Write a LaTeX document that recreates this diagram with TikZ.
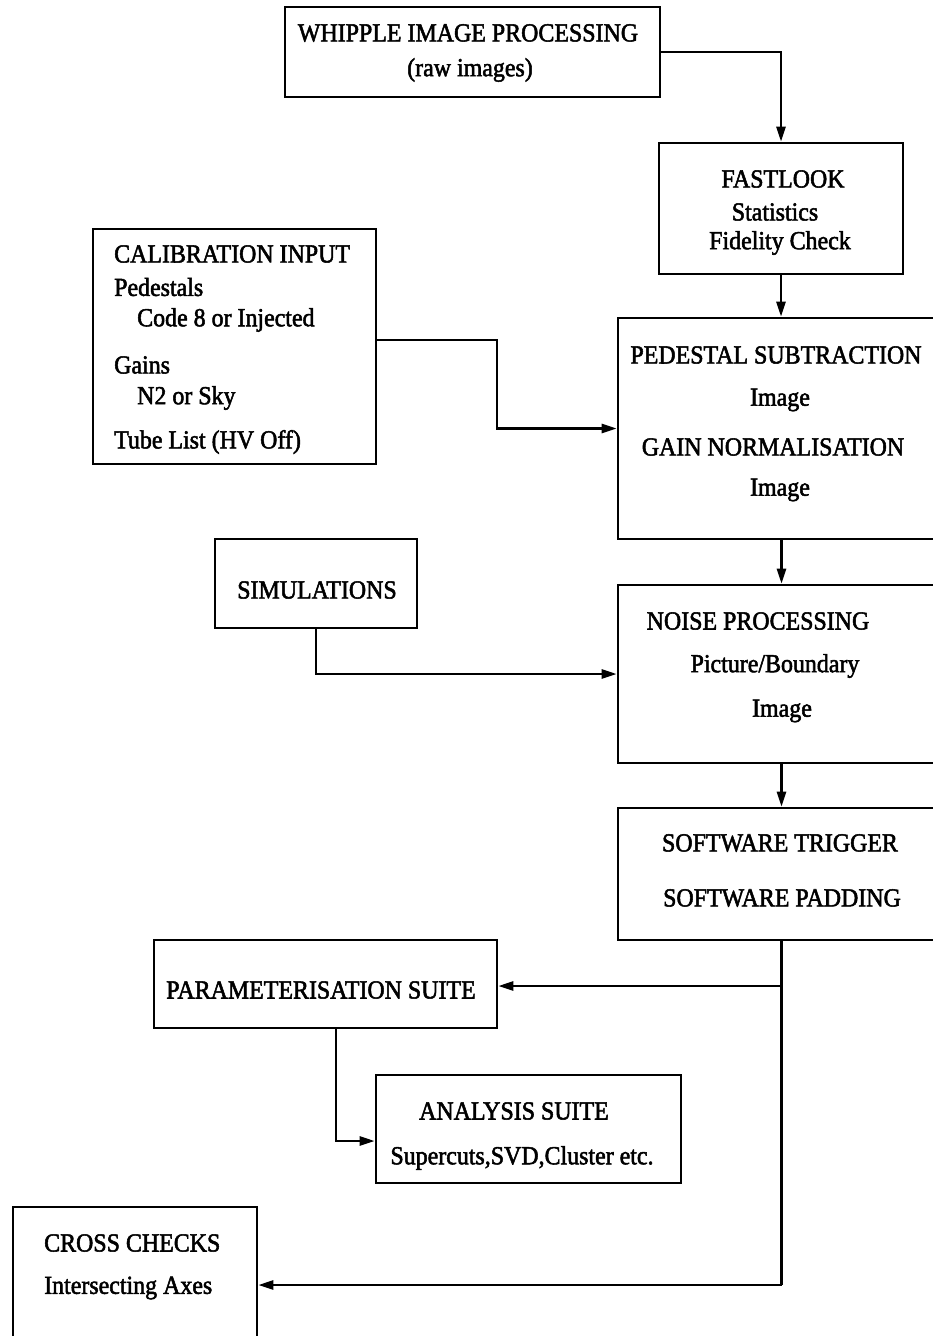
\documentclass[tikz,border=0pt]{standalone}
\usepackage{fontspec}
\setmainfont[FakeStretch=0.92,FakeBold=2]{Liberation Serif}
\usetikzlibrary{arrows.meta}
\tikzset{
  box/.style={draw, line width=2.6pt, rectangle, inner sep=0pt},
  txt/.style={inner sep=0pt, font=\fontsize{26}{28}\selectfont},
  ltxt/.style={txt, anchor=west},
  arr/.style={line width=2.6pt, -{Triangle[length=15pt,width=9pt]}},
  ln/.style={line width=2.6pt}
}
\newcommand{\mkbox}[5]{\node[box, minimum width={#4-#2}, minimum height={#5-#3}] (#1) at ({(#2+#4)/2},{(#3+#5)/2}) {};}
\begin{document}
\begin{tikzpicture}[x=1pt,y=-1pt]
\useasboundingbox (0,0) rectangle (933,1336);
\clip (0,0) rectangle (933,1336);
% boxes
\mkbox{whip}{285}{7}{660}{97}
\mkbox{fast}{659}{143}{903}{274}
\mkbox{calib}{93}{229}{376}{464}
\mkbox{ped}{618}{318}{945}{539}
\mkbox{sim}{215}{539}{417}{628}
\mkbox{noise}{618}{585}{945}{763}
\mkbox{soft}{618}{808}{945}{940}
\mkbox{param}{154}{940}{497}{1028}
\mkbox{anal}{376}{1075}{681}{1183}
\mkbox{cross}{13}{1207}{257}{1350}
% texts
\node[txt] (whip1) at (468,33) {WHIPPLE IMAGE PROCESSING};
\node[txt] (whip2) at (470,70) {(raw images)};
\node[txt] (fast1) at (783,179) {FASTLOOK};
\node[txt] (fast2) at (775,212) {Statistics};
\node[txt] (fast3) at (780,243) {Fidelity Check};
\node[ltxt] (cal1) at (114,254) {CALIBRATION INPUT};
\node[ltxt] (cal2) at (114,287) {Pedestals};
\node[ltxt] (cal3) at (137,320) {Code 8 or Injected};
\node[ltxt] (cal4) at (114,365) {Gains};
\node[ltxt] (cal5) at (137,398) {N2 or Sky};
\node[ltxt] (cal6) at (114,442) {Tube List (HV Off)};
\node[txt] (ped1) at (776,355) {PEDESTAL SUBTRACTION};
\node[txt] (ped2) at (780,400) {Image};
\node[txt] (ped3) at (773,447) {GAIN NORMALISATION};
\node[txt] (ped4) at (780,490) {Image};
\node[txt] (sim1) at (317,590) {SIMULATIONS};
\node[txt] (noi1) at (758,621) {NOISE PROCESSING};
\node[txt] (noi2) at (775,666) {Picture/Boundary};
\node[txt] (noi3) at (782,711) {Image};
\node[txt] (sof1) at (780,843) {SOFTWARE TRIGGER};
\node[txt] (sof2) at (782,898) {SOFTWARE PADDING};
\node[txt] (par1) at (321,990) {PARAMETERISATION SUITE};
\node[txt] (ana1) at (514,1111) {ANALYSIS SUITE};
\node[txt] (ana2) at (522,1158) {Supercuts,SVD,Cluster etc.};
\node[ltxt] (cro1) at (44,1243) {CROSS CHECKS};
\node[ltxt] (cro2) at (44,1288) {Intersecting Axes};
% junction coordinates
\coordinate (k1) at (497,340);
\coordinate (k3) at (336,1141);
\coordinate (j1) at (soft.south |- 0,986);
\coordinate (j2) at (soft.south |- 0,1285);
% connectors
\draw[arr] (whip.east) -| (fast.north);
\draw[arr] (fast.south) -- (fast.south |- ped.north);
\draw[arr] (calib.east |- k1) -- (k1) |- (ped.west);
\draw[arr] (ped.south) -- (ped.south |- noise.north);
\draw[arr] (sim.south) |- (noise.west);
\draw[arr] (noise.south) -- (noise.south |- soft.north);
\draw[ln] (soft.south) -- (j2);
\draw[arr] (j1) -- (param.east |- j1);
\draw[arr] (j2) -- (cross.east |- j2);
\draw[arr] (param.south -| k3) -- (k3) -- (anal.west |- k3);
\end{tikzpicture}
\end{document}
